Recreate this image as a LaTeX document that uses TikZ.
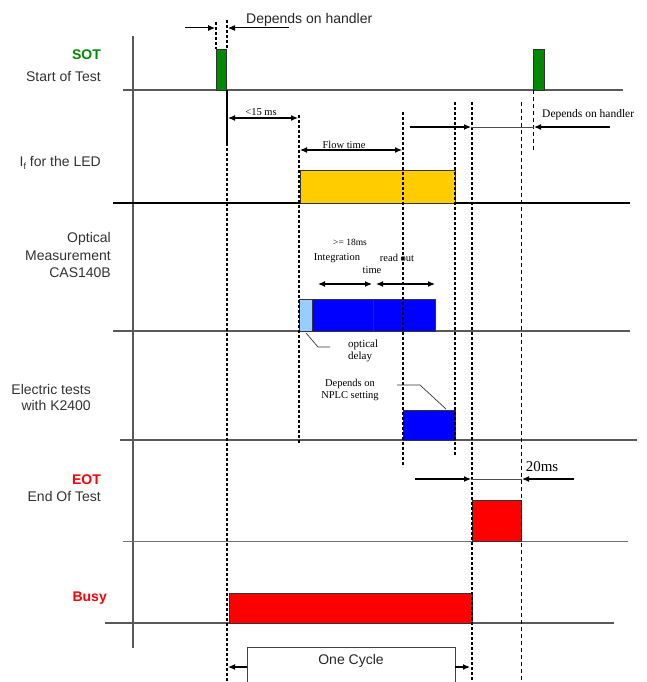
\documentclass[tikz,border=0pt]{standalone}
\usepackage{fontspec}
\setmainfont{Liberation Serif}
\newfontfamily\arial{Liberation Sans}
\usetikzlibrary{arrows.meta}
\definecolor{sotgreen}{HTML}{008A00}
\definecolor{ledyellow}{HTML}{FFCC00}
\definecolor{optblue}{HTML}{0000FF}
\definecolor{optlight}{HTML}{99CCFF}
\definecolor{eotred}{HTML}{FF0000}
\begin{document}
\begin{tikzpicture}[x=1pt,y=-1pt,
  baseline/.style={draw=black!65, line width=1.1pt},
  guide/.style={draw=black, line width=1.4pt, dash pattern=on 3pt off 2pt},
  thinguide/.style={draw=black, line width=0.9pt, dash pattern=on 4pt off 3pt},
  tip/.style={-{Latex[length=7pt,width=6pt]}, line width=1.2pt},
  dtip/.style={{Latex[length=7pt,width=6pt]}-{Latex[length=7pt,width=6pt]}, line width=1.2pt},
  lab/.style={font=\arial\fontsize{14}{16}\selectfont, align=right, anchor=east, inner sep=0, text=black!80},
  biglab/.style={font=\arial\bfseries\fontsize{14}{16}\selectfont, anchor=east, inner sep=0},
  note/.style={font=\fontsize{10.5}{11}\selectfont, inner sep=0},
  pulse/.style={draw=black!80, line width=0.8pt, inner sep=0, anchor=north west},
]
\useasboundingbox (0,0) rectangle (646,682);
\fill[white] (0,0) rectangle (646,682);

% vertical axis
\coordinate (axT) at (133,36);
\coordinate (axB) at (133,648);
\draw[baseline] (axT) -- (axB);

% baselines
\coordinate (b1L) at (123,90);  \coordinate (b1R) at (623,90);
\coordinate (b2L) at (113,203); \coordinate (b2R) at (630,203);
\coordinate (b3L) at (113,331); \coordinate (b3R) at (630,331);
\coordinate (b4L) at (120,440); \coordinate (b4R) at (637,440);
\coordinate (b5L) at (123,541); \coordinate (b5R) at (628,541);
\coordinate (b6L) at (105,623); \coordinate (b6R) at (614,623);
\draw[baseline] (b1L) -- (b1R);
\draw[draw=black, line width=2.2pt] (b2L) -- (b2R);
\draw[baseline] (b3L) -- (b3R);
\draw[baseline] (b4L) -- (b4R);
\draw[draw=black!55, line width=1pt] (b5L) -- (b5R);
\draw[baseline] (b6L) -- (b6R);

% pulses and boxes
\node[pulse, fill=sotgreen, minimum width=10pt, minimum height=41pt] (sot1) at (216,49) {};
\node[pulse, fill=sotgreen, minimum width=11pt, minimum height=41pt] (sot2) at (533,49) {};
\node[pulse, fill=ledyellow, minimum width=155pt, minimum height=33pt] (led) at (300,170) {};
\node[pulse, fill=optlight, minimum width=13pt, minimum height=32pt] (odelay) at (299,299) {};
\node[pulse, fill=optblue, minimum width=61pt, minimum height=32pt] (integ) at (312,299) {};
\node[pulse, fill=optblue, minimum width=62pt, minimum height=32pt] (rdout) at (373,299) {};
\node[pulse, fill=optblue, minimum width=52pt, minimum height=30pt] (elec) at (403,410) {};
\node[pulse, fill=eotred, minimum width=49pt, minimum height=41pt] (eot) at (472,500) {};
\node[pulse, fill=eotred, minimum width=243pt, minimum height=30pt] (busy) at (229,593) {};

% vertical guides
\coordinate (g1T) at (216,22);  \coordinate (g1B) at (216,49);
\coordinate (g2T) at (227,20);  \coordinate (g2M) at (227,49);
\coordinate (g2S) at (227,90);  \coordinate (g2E) at (227,143); \coordinate (g2B) at (227,682);
\coordinate (g3T) at (299,115); \coordinate (g3B) at (299,443);
\coordinate (g4T) at (403,112); \coordinate (g4B) at (403,467);
\coordinate (g5T) at (455,102); \coordinate (g5B) at (455,455);
\coordinate (g6T) at (472,102); \coordinate (g6B) at (472,682);
\coordinate (g7T) at (521,102); \coordinate (g7B) at (521,682);
\coordinate (g8T) at (533,90);  \coordinate (g8B) at (533,150);
\draw[guide] (g1T) -- (g1B);
\draw[guide] (g2T) -- (g2M);
\draw[black, line width=1.4pt] (g2S) -- (g2E);
\draw[guide] (g2E) -- (g2B);
\draw[guide] (g3T) -- (g3B);
\draw[guide] (g4T) -- (g4B);
\draw[guide] (g5T) -- (g5B);
\draw[guide] (g6T) -- (g6B);
\draw[thinguide] (g7T) -- (g7B);
\draw[thinguide] (g8T) -- (g8B);

% top "depends on handler"
\coordinate (h1a) at (185,28); \coordinate (h1b) at (215,28);
\coordinate (h2a) at (289,28); \coordinate (h2b) at (228,28);
\draw[tip, line width=1pt] (h1a) -- (h1b);
\draw[tip, line width=1pt] (h2a) -- (h2b);
\node[font=\arial\fontsize{14}{16}\selectfont, anchor=west, inner sep=0, text=black!85] (dep1) at (246,20) {Depends on handler};

% <15 ms
\coordinate (m15a) at (228,118); \coordinate (m15b) at (298,118);
\draw[dtip] (m15a) -- (m15b);
\node[note] (m15) at (261,112) {<15 ms};

% Flow time
\coordinate (fta) at (300,150); \coordinate (ftb) at (402,150);
\draw[dtip] (fta) -- (ftb);
\node[note] (ft) at (344,145) {Flow time};

% depends on handler (right)
\coordinate (r1a) at (410,127); \coordinate (r1b) at (471,127);
\coordinate (r2a) at (610,127); \coordinate (r2b) at (534,127);
\draw[tip] (r1a) -- (r1b);
\draw[black!70, line width=0.8pt] (r1b) -- (r2b);
\draw[tip] (r2a) -- (r2b);
\node[note, anchor=west, font=\fontsize{11.5}{12}\selectfont] (dep2) at (542,115) {Depends on handler};

% optical measurement annotations
\node[note, font=\fontsize{9.5}{10}\selectfont] (o18) at (350,242) {>= 18ms};
\node[note] (oint) at (337,258) {Integration};
\node[note] (otime) at (372,270) {time};
\node[note] (oread) at (397,258) {read out};
\coordinate (ia) at (318,284); \coordinate (ib) at (372,284);
\coordinate (ra) at (376,284); \coordinate (rb) at (435,284);
\draw[dtip] (ia) -- (ib);
\draw[dtip] (ra) -- (rb);
\coordinate (c1a) at (306,333); \coordinate (c1b) at (318,347); \coordinate (c1c) at (330,347);
\draw[black!80, line width=0.7pt] (c1a) -- (c1b) -- (c1c);
\node[note, anchor=west, align=left, font=\fontsize{11}{12}\selectfont] (odl) at (348,351) {optical\\delay};

% electric annotations
\node[note, align=center, font=\fontsize{10.5}{11.5}\selectfont] (nplc) at (350,390) {Depends on\\NPLC setting};
\coordinate (c2a) at (397,385); \coordinate (c2b) at (420,385); \coordinate (c2c) at (446,409);
\draw[black!80, line width=0.7pt] (c2a) -- (c2b) -- (c2c);

% 20ms
\coordinate (e1a) at (415,479); \coordinate (e1b) at (471,479);
\coordinate (e2a) at (574,479); \coordinate (e2b) at (522,479);
\draw[tip] (e1a) -- (e1b);
\draw[black!70, line width=0.8pt] (e1b) -- (e2b);
\draw[tip] (e2a) -- (e2b);
\node[inner sep=0, font=\fontsize{15}{16}\selectfont] (ms20) at (542,467) {20ms};

% One cycle
\coordinate (cyL) at (247,682); \coordinate (cyLT) at (247,647);
\coordinate (cyR) at (455,682); \coordinate (cyRT) at (455,647);
\draw[black!75, line width=1pt] (cyL) -- (cyLT) -- (cyRT) -- (cyR);
\node[font=\arial\fontsize{14}{16}\selectfont, inner sep=0, text=black!85] (cyc) at (351,661) {One Cycle};
\coordinate (ca) at (247,667); \coordinate (cb) at (228,667);
\coordinate (cc) at (455,667); \coordinate (cd) at (470,667);
\draw[tip] (ca) -- (cb);
\draw[tip] (cc) -- (cd);

% row labels
\node[biglab, text=sotgreen] (lsot) at (101,55) {SOT};
\node[lab] (lsot2) at (101,77) {Start of Test};
\node[lab] (lled) at (101,163) {I\raisebox{-3pt}{\fontsize{9}{9}\selectfont f} for the LED};
\node[lab, font=\arial\fontsize{14}{17.5}\selectfont] (lopt) at (111,255) {Optical\\Measurement\\CAS140B};
\node[lab, font=\arial\fontsize{14}{16}\selectfont] (lel) at (91,397) {Electric tests\\with K2400};
\node[biglab, text=eotred] (leot) at (101,480) {EOT};
\node[lab] (leot2) at (101,496) {End Of Test};
\node[biglab, text=eotred] (lbusy) at (107,598) {Busy};
\end{tikzpicture}
\end{document}
